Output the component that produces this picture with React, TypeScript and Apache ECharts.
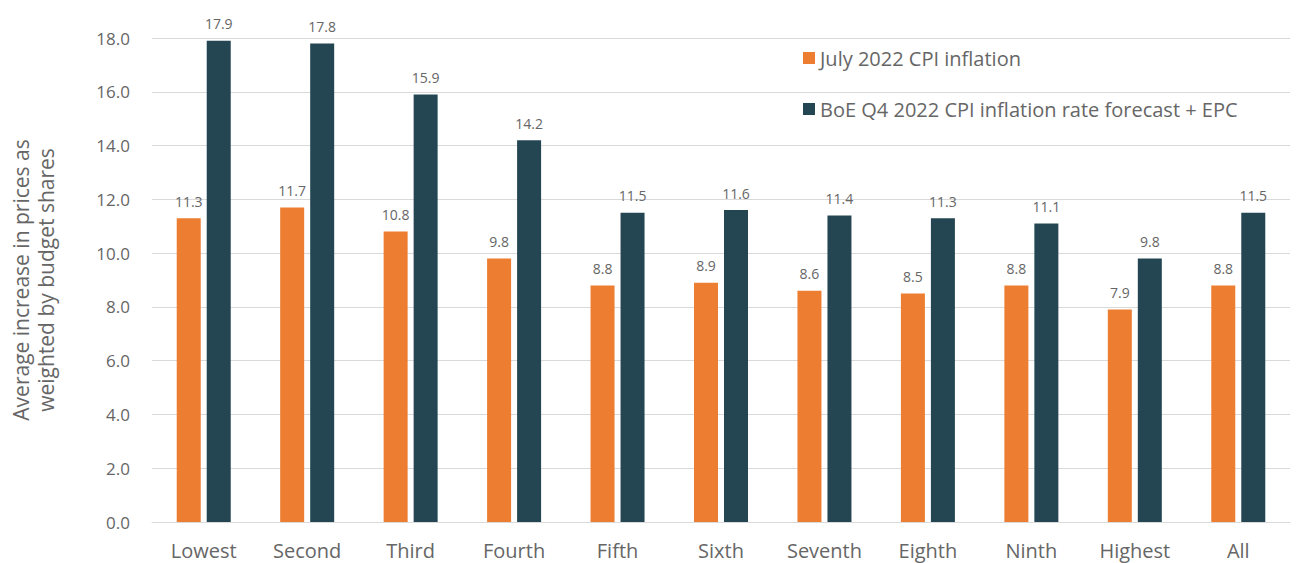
import React, { useEffect, useRef } from "react";
import * as echarts from "echarts";

const categories = ["Lowest", "Second", "Third", "Fourth", "Fifth", "Sixth", "Seventh", "Eighth", "Ninth", "Highest", "All"];
const julyCPI = [11.3, 11.7, 10.8, 9.8, 8.8, 8.9, 8.6, 8.5, 8.8, 7.9, 8.8];
const boeForecast = [17.9, 17.8, 15.9, 14.2, 11.5, 11.6, 11.4, 11.3, 11.1, 9.8, 11.5];
const seriesNames = ["July 2022 CPI inflation", "BoE Q4 2022 CPI inflation rate forecast + EPC"];

const FONT = "'Open Sans', Lato, sans-serif";
const TEXT = "#666666";

export default function App() {
  const ref = useRef<HTMLDivElement>(null);
  useEffect(() => {
    if (!ref.current) return;
    const chart = echarts.init(ref.current, undefined, { renderer: "svg" });
    const label = {
      show: true,
      position: "top" as const,
      distance: 10,
      color: TEXT,
      fontFamily: FONT,
      fontSize: 14,
      formatter: (p: any) => Number(p.value).toFixed(1),
    };
    chart.setOption({
      animation: false,
      textStyle: { fontFamily: FONT },
      grid: { left: 143, right: 26, top: 38, bottom: 41 },
      legend: {
        orient: "vertical",
        left: 798,
        top: 43,
        itemWidth: 12,
        itemHeight: 12,
        itemGap: 31,
        icon: "rect",
        textStyle: { color: TEXT, fontSize: 20, fontFamily: FONT },
        data: seriesNames,
      },
      xAxis: {
        type: "category",
        data: categories,
        axisLine: { lineStyle: { color: "#d9d9d9" } },
        axisTick: { show: false },
        axisLabel: { color: TEXT, fontSize: 20, margin: 18, fontFamily: FONT, interval: 0 },
      },
      yAxis: {
        type: "value",
        min: 0,
        max: 18,
        interval: 2,
        name: "Average increase in prices as\nweighted by budget shares",
        nameLocation: "middle",
        nameRotate: 90,
        nameGap: 94,
        nameTextStyle: { color: TEXT, fontSize: 21, lineHeight: 25, fontFamily: FONT },
        axisLabel: { color: TEXT, fontSize: 17, margin: 22, fontFamily: FONT, formatter: (v: number) => v.toFixed(1) },
        splitLine: { lineStyle: { color: "#d9d9d9" } },
        axisLine: { show: false },
        axisTick: { show: false },
      },
      series: [
        { name: seriesNames[0], type: "bar", data: julyCPI, barWidth: 24, barGap: "25%", itemStyle: { color: "#ED7D31" }, label },
        { name: seriesNames[1], type: "bar", data: boeForecast, barWidth: 24, itemStyle: { color: "#244653" }, label },
      ],
    });
    return () => chart.dispose();
  }, []);
  return <div ref={ref} style={{ width: 1316, height: 563, position: "absolute", left: 0, top: 0 }} />;
}
